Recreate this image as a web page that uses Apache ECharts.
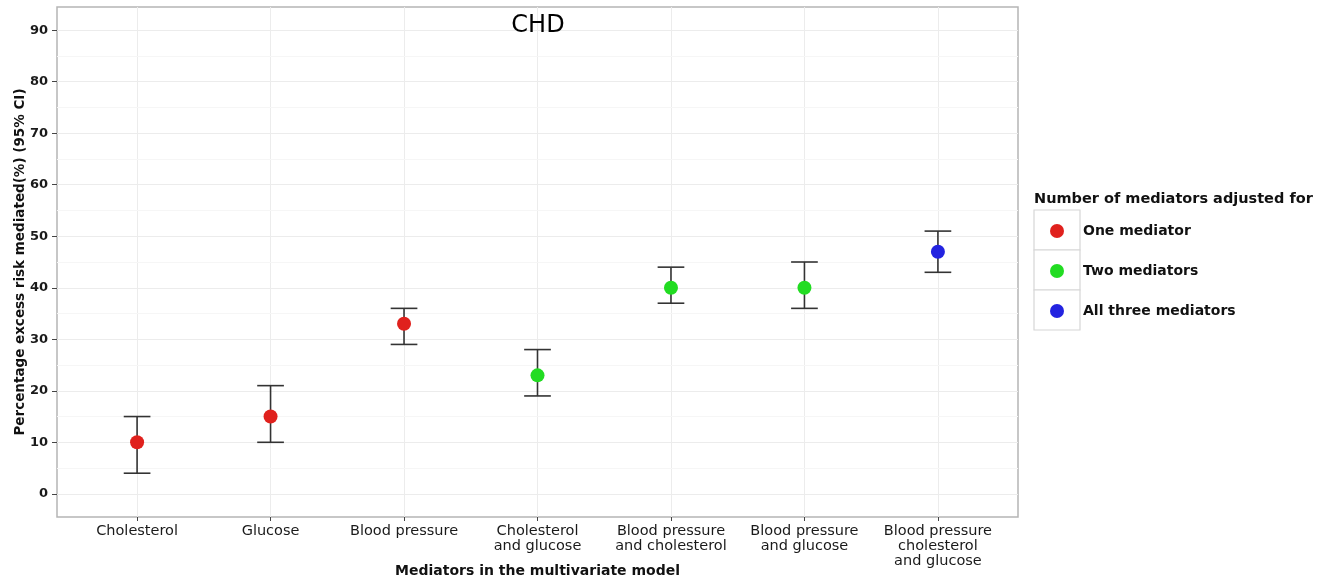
<!DOCTYPE html>
<html>
<head>
<meta charset="utf-8">
<title>CHD</title>
<script src="https://cdn.jsdelivr.net/npm/echarts@6/dist/echarts.min.js"></script>
<style>
  html, body { margin: 0; padding: 0; background: #ffffff; }
  #chart { width: 1321px; height: 580px; }
</style>
</head>
<body>
<div id="chart"></div>
<script>
// Mediators in the multivariate model (x positions 1..7)
const categories = [
  'Cholesterol',
  'Glucose',
  'Blood pressure',
  'Cholesterol\nand glucose',
  'Blood pressure\nand cholesterol',
  'Blood pressure\nand glucose',
  'Blood pressure\ncholesterol\nand glucose'
];
// Percentage excess risk mediated and its 95% CI
const estimates = [10, 15, 33, 23, 40, 40, 47];
const lowerCI   = [4, 10, 29, 19, 37, 36, 43];
const upperCI   = [15, 21, 36, 28, 44, 45, 51];
// Number of mediators adjusted for, per model
const mediatorGroup = [
  'One mediator', 'One mediator', 'One mediator',
  'Two mediators', 'Two mediators', 'Two mediators',
  'All three mediators'
];
const groupNames = ['One mediator', 'Two mediators', 'All three mediators'];
// Axis breaks
const xBreaks = [1, 2, 3, 4, 5, 6, 7];
const yBreaks = [0, 10, 20, 30, 40, 50, 60, 70, 80, 90];
const yMinorBreaks = [5, 15, 25, 35, 45, 55, 65, 75, 85];

const groupColors = {
  'One mediator': '#e0211d',
  'Two mediators': '#22dc22',
  'All three mediators': '#2323e0'
};
const FONT = 'DejaVu Sans';

const chart = echarts.init(document.getElementById('chart'), null, { renderer: 'canvas' });

const errorData = categories.map((c, i) => [xBreaks[i], lowerCI[i], upperCI[i]]);

const pointSeries = groupNames.map(g => ({
  name: g,
  type: 'scatter',
  symbol: 'circle',
  symbolSize: 14,
  z: 5,
  itemStyle: { color: groupColors[g], opacity: 1 },
  emphasis: { disabled: true },
  data: categories
    .map((c, i) => (mediatorGroup[i] === g ? [xBreaks[i], estimates[i]] : null))
    .filter(d => d !== null)
}));

const option = {
  backgroundColor: '#ffffff',
  animation: false,
  textStyle: { fontFamily: FONT },
  title: {
    text: 'CHD',
    left: 533,
    top: 9,
    textAlign: 'center',
    textStyle: { fontFamily: FONT, fontSize: 24, fontWeight: 'normal', color: '#000000' }
  },
  grid: {
    left: 57, right: 303, top: 7, bottom: 63,
    outerBoundsMode: 'none',
    containLabel: false,
    show: true,
    backgroundColor: '#ffffff',
    borderColor: '#b5b5b5',
    borderWidth: 1.5
  },
  legend: {
    orient: 'vertical',
    left: 1045,
    top: 219,
    itemWidth: 42,
    itemHeight: 14,
    itemGap: 26,
    icon: 'circle',
    selectedMode: false,
    data: groupNames,
    textStyle: { fontFamily: FONT, fontSize: 14, fontWeight: 'bold', color: '#111111', lineHeight: 14 }
  },
  xAxis: {
    type: 'value',
    min: 0.4,
    max: 7.6,
    name: 'Mediators in the multivariate model',
    nameLocation: 'middle',
    nameGap: 47,
    nameMoveOverlap: false,
    nameTextStyle: { fontFamily: FONT, fontSize: 14, fontWeight: 'bold', color: '#111111' },
    axisLine: { show: false, onZero: false },
    axisTick: { show: true, length: 4, customValues: xBreaks, lineStyle: { color: '#444444', width: 1 } },
    axisLabel: {
      customValues: xBreaks,
      margin: 7,
      fontFamily: FONT,
      fontSize: 14.5,
      lineHeight: 15,
      color: '#1a1a1a',
      formatter: v => categories[Math.round(v) - 1] || ''
    },
    splitLine: { show: true, lineStyle: { color: '#ececec', width: 1 } }
  },
  yAxis: {
    type: 'value',
    min: -4.5,
    max: 94.5,
    name: 'Percentage excess risk mediated(%) (95% CI)',
    nameLocation: 'middle',
    nameGap: 30,
    nameMoveOverlap: false,
    nameTextStyle: { fontFamily: FONT, fontSize: 13.5, fontWeight: 'bold', color: '#111111' },
    axisLine: { show: false, onZero: false },
    axisTick: { show: true, length: 5, customValues: yBreaks, lineStyle: { color: '#444444', width: 1 } },
    axisLabel: {
      customValues: yBreaks,
      margin: 9,
      fontFamily: FONT,
      fontSize: 13,
      fontWeight: 'bold',
      color: '#1a1a1a'
    },
    splitLine: { show: true, lineStyle: { color: '#ececec', width: 1 } }
  },
  graphic: [
    {
      type: 'text',
      left: 1034,
      top: 192,
      style: {
        text: 'Number of mediators adjusted for',
        fontFamily: FONT,
        fontSize: 14.5,
        fontWeight: 'bold',
        fill: '#111111'
      }
    },
    { type: 'rect', shape: { x: 1034, y: 210, width: 46, height: 40 }, style: { fill: '#ffffff', stroke: '#d6d6d6', lineWidth: 1.2 }, z: -1 },
    { type: 'rect', shape: { x: 1034, y: 250, width: 46, height: 40 }, style: { fill: '#ffffff', stroke: '#d6d6d6', lineWidth: 1.2 }, z: -1 },
    { type: 'rect', shape: { x: 1034, y: 290, width: 46, height: 40 }, style: { fill: '#ffffff', stroke: '#d6d6d6', lineWidth: 1.2 }, z: -1 }
  ],
  series: [
    {
      name: 'minor grid',
      type: 'custom',
      silent: true,
      z: 1,
      data: [],
      renderItem: () => null,
      markLine: {
        silent: true,
        z: 1,
        symbol: ['none', 'none'],
        label: { show: false },
        lineStyle: { color: '#f6f6f6', width: 1, type: 'solid' },
        emphasis: { disabled: true },
        data: yMinorBreaks.map(v => ({ yAxis: v }))
      }
    },
    {
      name: 'CI',
      type: 'custom',
      silent: true,
      z: 3,
      encode: { x: 0, y: [1, 2] },
      data: errorData,
      renderItem: (params, api) => {
        const x = api.value(0);
        const lo = api.coord([x, api.value(1)]);
        const hi = api.coord([x, api.value(2)]);
        const half = api.size([0.1, 0])[0];
        const style = { stroke: '#333333', lineWidth: 1.6 };
        return {
          type: 'group',
          children: [
            { type: 'line', shape: { x1: lo[0], y1: lo[1], x2: hi[0], y2: hi[1] }, style },
            { type: 'line', shape: { x1: lo[0] - half, y1: lo[1], x2: lo[0] + half, y2: lo[1] }, style },
            { type: 'line', shape: { x1: hi[0] - half, y1: hi[1], x2: hi[0] + half, y2: hi[1] }, style }
          ]
        };
      }
    }
  ].concat(pointSeries)
};

chart.setOption(option);
</script>
</body>
</html>
